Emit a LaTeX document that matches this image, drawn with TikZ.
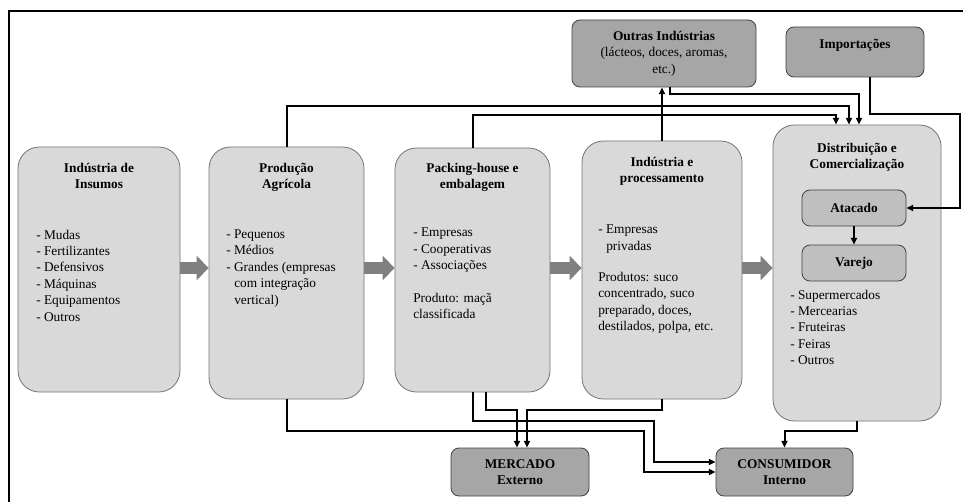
\documentclass[tikz,border=0pt]{standalone}
\usepackage{fontspec}
\setmainfont{Liberation Serif}
\usetikzlibrary{arrows.meta}

\begin{document}
\begin{tikzpicture}
    [
        x=0.75pt, y=-0.75pt,
        main_box/.style={rectangle, rounded corners=16pt, draw=black!55, fill=black!15, line width=0.6pt},
        dark_box/.style={rectangle, rounded corners=6pt, draw=black!75, fill=black!35, line width=0.6pt, align=center, font=\fontsize{10}{12.3}\selectfont\bfseries},
        sub_box/.style={dark_box, fill=black!25},
        title_text/.style={anchor=north, inner sep=0pt, align=center, font=\fontsize{10}{12.3}\selectfont\bfseries},
        list_text/.style={anchor=north west, inner sep=0pt, align=left, font=\fontsize{10}{12.3}\selectfont},
        flow/.style={-{Triangle[length=5pt, width=4.5pt]}, line width=1.5pt},
        fat_arrow/.style={-{Triangle[length=9pt, width=18pt]}, line width=8.25pt, draw=black!50},
    ]
        \useasboundingbox (0,0) rectangle (963,502);
        \draw[line width=2pt] (966,11) -- (9,11) -- (9,505);

        % main chain
        \node[main_box, minimum width=121.5pt, minimum height=183.75pt] (insumos) at (99,269.5) {};
        \node[main_box, minimum width=116.25pt, minimum height=189pt] (producao) at (286.5,273) {};
        \node[main_box, minimum width=116.25pt, minimum height=183pt] (packing) at (472.5,270) {};
        \node[main_box, minimum width=120pt, minimum height=193.5pt] (industria) at (662,270) {};
        \node[main_box, minimum width=126pt, minimum height=222pt] (distrib) at (857,273) {};
        \node[sub_box, minimum width=78pt, minimum height=27pt] (atacado) at (854,208) {Atacado};
        \node[sub_box, minimum width=78pt, minimum height=27pt] (varejo) at (854,263) {Varejo};

        % side boxes
        \node[dark_box, minimum width=138pt, minimum height=50.25pt] (outras) at (664,53.5) {Outras Indústrias\\{\mdseries(lácteos, doces, aromas,}\\{\mdseries etc.)}};
        \node[dark_box, minimum width=103.5pt, minimum height=37.5pt, text depth=12.8pt] (importacoes) at (855,52) {Importações};
        \node[dark_box, minimum width=103.5pt, minimum height=36pt] (mercado) at (520,472) {MERCADO\\Externo};
        \node[dark_box, minimum width=102.75pt, minimum height=36pt] (consumidor) at (784.5,472) {CONSUMIDOR\\Interno};

        % texts
        \node[title_text] (insumos_title) at (99,162.5) {Indústria de\\Insumos};
        \node[list_text] (insumos_list) at (36,229.5) {- Mudas\\- Fertilizantes\\- Defensivos\\- Máquinas\\- Equipamentos\\- Outros};
        \node[title_text] (producao_title) at (286.5,162.5) {Produção\\Agrícola};
        \node[list_text] (producao_list) at (226,229.5) {- Pequenos\\- Médios\\- Grandes (empresas\\\hspace*{6pt}com integração\\\hspace*{6pt}vertical)};
        \node[title_text] (packing_title) at (472.5,163) {Packing-house e\\embalagem};
        \node[list_text] (packing_list) at (413,228) {- Empresas\\- Cooperativas\\- Associações\\[12.3pt]Produto: maçã\\classificada};
        \node[title_text] (industria_title) at (662,157) {Indústria e\\processamento};
        \node[list_text] (industria_list) at (598,225) {- Empresas\\\hspace*{6pt}privadas\\[11pt]Produtos: suco\\concentrado, suco\\preparado, doces,\\destilados, polpa, etc.};
        \node[title_text] (distrib_title) at (857,143) {Distribuição e\\Comercialização};
        \node[list_text] (distrib_list) at (790,289.5) {- Supermercados\\- Mercearias\\- Fruteiras\\- Feiras\\- Outros};

        % block arrows
        \coordinate (flow_row) at (0,268);
        \draw[fat_arrow] (insumos.east |- flow_row) -- (producao.west |- flow_row);
        \draw[fat_arrow] (producao.east |- flow_row) -- (packing.west |- flow_row);
        \draw[fat_arrow] (packing.east |- flow_row) -- (industria.west |- flow_row);
        \draw[fat_arrow] (industria.east |- flow_row) -- (distrib.west |- flow_row);

        % connectors
        \draw[flow] (producao.north) -- ++(0,-41) -| ([xshift=-6pt]distrib.north);
        \draw[flow] (packing.north) -- ++(0,-33) -| ([xshift=-15.75pt]distrib.north);
        \draw[flow] ([xshift=4.5pt]outras.south) -- ++(0,7) -| ([xshift=1.5pt]distrib.north);
        \draw[flow] (industria.north) -- (industria.north |- outras.south);
        \draw[flow] ([xshift=11.25pt]importacoes.south) -- ++(0,37) -- ++(90,0) |- (atacado.east);
        \draw[flow] (atacado.south) -- (varejo.north);
        \draw[flow] (producao.south) -- ++(0,32) -- ++(357.5,0) |- (consumidor.west);
        \draw[flow] (packing.south) -- ++(0,29) -- ++(181.5,0) |- ([yshift=7.5pt]consumidor.west);
        \draw[flow] ([xshift=10pt]packing.south) -- ++(0,18) -| ([xshift=-2.25pt]mercado.north);
        \draw[flow] (industria.south) -- ++(0,11) -| ([xshift=5.25pt]mercado.north);
        \draw[flow] (distrib.south) -- ++(0,10) -| (consumidor.north);
\end{tikzpicture}
\end{document}
